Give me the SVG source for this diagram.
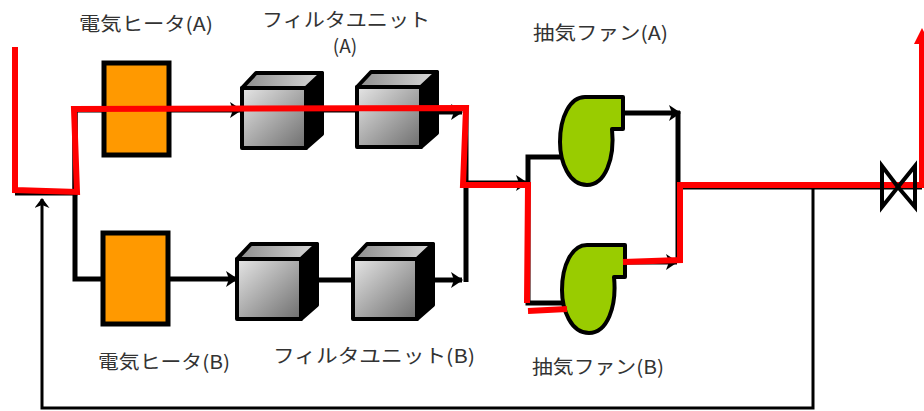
<svg xmlns="http://www.w3.org/2000/svg" width="924" height="411" viewBox="0 0 924 411">
  <style>
    .lbl { font-family: "Noto Sans CJK JP", "Liberation Sans", sans-serif; font-size: 19px; fill: #333333; }
    .pipe { fill: none; stroke: #000000; stroke-width: 5; stroke-linejoin: miter; }
    .ret { fill: none; stroke: #000000; stroke-width: 3; }
    .flow { fill: none; stroke: #FF0000; stroke-width: 6; stroke-linejoin: miter; }
    .heater { fill: #FF9900; stroke: #000000; stroke-width: 5; }
    .fan { fill: #99CC00; stroke: #000000; stroke-width: 4; stroke-linejoin: round; }
    .cube-front { fill: url(#gFront); stroke: #000000; stroke-width: 4; stroke-linejoin: round; }
    .cube-top { fill: url(#gTop); stroke: #000000; stroke-width: 4; stroke-linejoin: round; }
    .cube-side { fill: #000000; stroke: #000000; stroke-width: 4; stroke-linejoin: round; }
    .valve { fill: none; stroke: #000000; stroke-width: 4; stroke-linejoin: miter; }
  </style>
  <defs>
    <linearGradient id="gFront" x1="0" y1="0" x2="1" y2="1">
      <stop offset="0" stop-color="#E6E6E6"/>
      <stop offset="1" stop-color="#6E6E6E"/>
    </linearGradient>
    <linearGradient id="gTop" x1="0" y1="0" x2="1" y2="0">
      <stop offset="0" stop-color="#8C8C8C"/>
      <stop offset="1" stop-color="#D9D9D9"/>
    </linearGradient>
    <marker id="arr" markerUnits="userSpaceOnUse" markerWidth="12" markerHeight="16" viewBox="0 0 12 16" refX="11" refY="8" orient="auto">
      <path d="M0,0 L12,8 L0,16 L3,8 Z" fill="#000000"/>
    </marker>
    <marker id="arrS" markerUnits="userSpaceOnUse" markerWidth="10" markerHeight="15" viewBox="0 0 10 15" refX="9" refY="7.5" orient="auto">
      <path d="M0,0 L10,7.5 L0,15 L3,7.5 Z" fill="#000000"/>
    </marker>
    <g id="cube">
      <path class="cube-side" d="M64,0 L80,-15 L80,46 L64,60 Z"/>
      <path class="cube-top" d="M0,0 L14,-15 L80,-15 L64,0 Z"/>
      <rect class="cube-front" x="0" y="0" width="64" height="60"/>
    </g>
    <path id="fanShape" class="fan" d="M25,0 L63,0 L63,32 L52,32 C55,62 45,88 27,88 C9,88 0,65 0,45 C0,20 10,0 25,0 Z"/>
  </defs>

  <!-- black process piping -->
  <g id="connectors">
    <path class="pipe" d="M15,193 L75,193 L75,110 L104,110"/>
    <path class="pipe" d="M169,110 L241,110" marker-end="url(#arr)"/>
    <path class="pipe" d="M307,110 L357,110"/>
    <path class="pipe" d="M438,112 L462,112" marker-end="url(#arr)"/>
    <path class="pipe" d="M75,110 L75,279 L103,279"/>
    <path class="pipe" d="M168,279 L237,279" marker-end="url(#arr)"/>
    <path class="pipe" d="M302,280 L353,280"/>
    <path class="pipe" d="M435,280 L462,280" marker-end="url(#arr)"/>
    <path class="pipe" d="M466,108 L466,282"/>
    <path class="pipe" d="M466,183 L527,183" marker-end="url(#arr)"/>
    <path class="pipe" d="M563,157 L528,157 L528,303 L564,303"/>
    <path class="pipe" d="M623,113 L680,113" marker-end="url(#arr)"/>
    <path class="pipe" d="M678,111 L678,262"/>
    <path class="pipe" d="M623,262 L677,262" marker-end="url(#arr)"/>
    <path class="pipe" d="M678,187 L922,187"/>
    <path class="ret" d="M813,187 L813,408 L42,408 L42,199" marker-end="url(#arrS)"/>
  </g>

  <!-- heaters -->
  <g id="heater-a">
    <rect class="heater" x="104" y="63" width="65" height="92"/>
    <text class="lbl" x="79" y="31" textLength="134" lengthAdjust="spacingAndGlyphs">電気ヒータ(A)</text>
  </g>
  <g id="heater-b">
    <rect class="heater" x="103" y="233" width="65" height="91"/>
    <text class="lbl" x="98" y="369" textLength="132" lengthAdjust="spacingAndGlyphs">電気ヒータ(B)</text>
  </g>

  <!-- filter units -->
  <g id="filter-a">
    <use href="#cube" x="242" y="88"/>
    <use href="#cube" x="357" y="87"/>
    <text class="lbl" x="262" y="27" textLength="168" lengthAdjust="spacingAndGlyphs">フィルタユニット</text>
    <text class="lbl" x="345" y="53" text-anchor="middle">(A)</text>
  </g>
  <g id="filter-b">
    <use href="#cube" x="237" y="259"/>
    <use href="#cube" x="353" y="259"/>
    <text class="lbl" x="273" y="363" textLength="202" lengthAdjust="spacingAndGlyphs">フィルタユニット(B)</text>
  </g>

  <!-- exhaust fans -->
  <g id="fan-a">
    <use href="#fanShape" x="560" y="97"/>
    <text class="lbl" x="533" y="40" textLength="135" lengthAdjust="spacingAndGlyphs">抽気ファン(A)</text>
  </g>
  <g id="fan-b">
    <use href="#fanShape" x="562" y="245"/>
    <text class="lbl" x="532" y="374" textLength="132" lengthAdjust="spacingAndGlyphs">抽気ファン(B)</text>
  </g>

  <!-- active flow path -->
  <g id="flow">
    <path class="flow" d="M15,47 L15,190 L77,192 L74,109 L466,108 L463,185 L528,185 L527,303"/>
    <path class="flow" d="M528,311 L567,309"/>
    <path class="flow" d="M623,262 L680,260 L680,185 L922,185 L922,42"/>
    <polygon points="922,28 914,44 930,44" fill="#FF0000"/>
  </g>

  <!-- outlet valve -->
  <g id="valve">
    <path class="valve" d="M882,166 L882,207 L898,187 Z M915,166 L915,207 L898,187 Z"/>
  </g>
</svg>
